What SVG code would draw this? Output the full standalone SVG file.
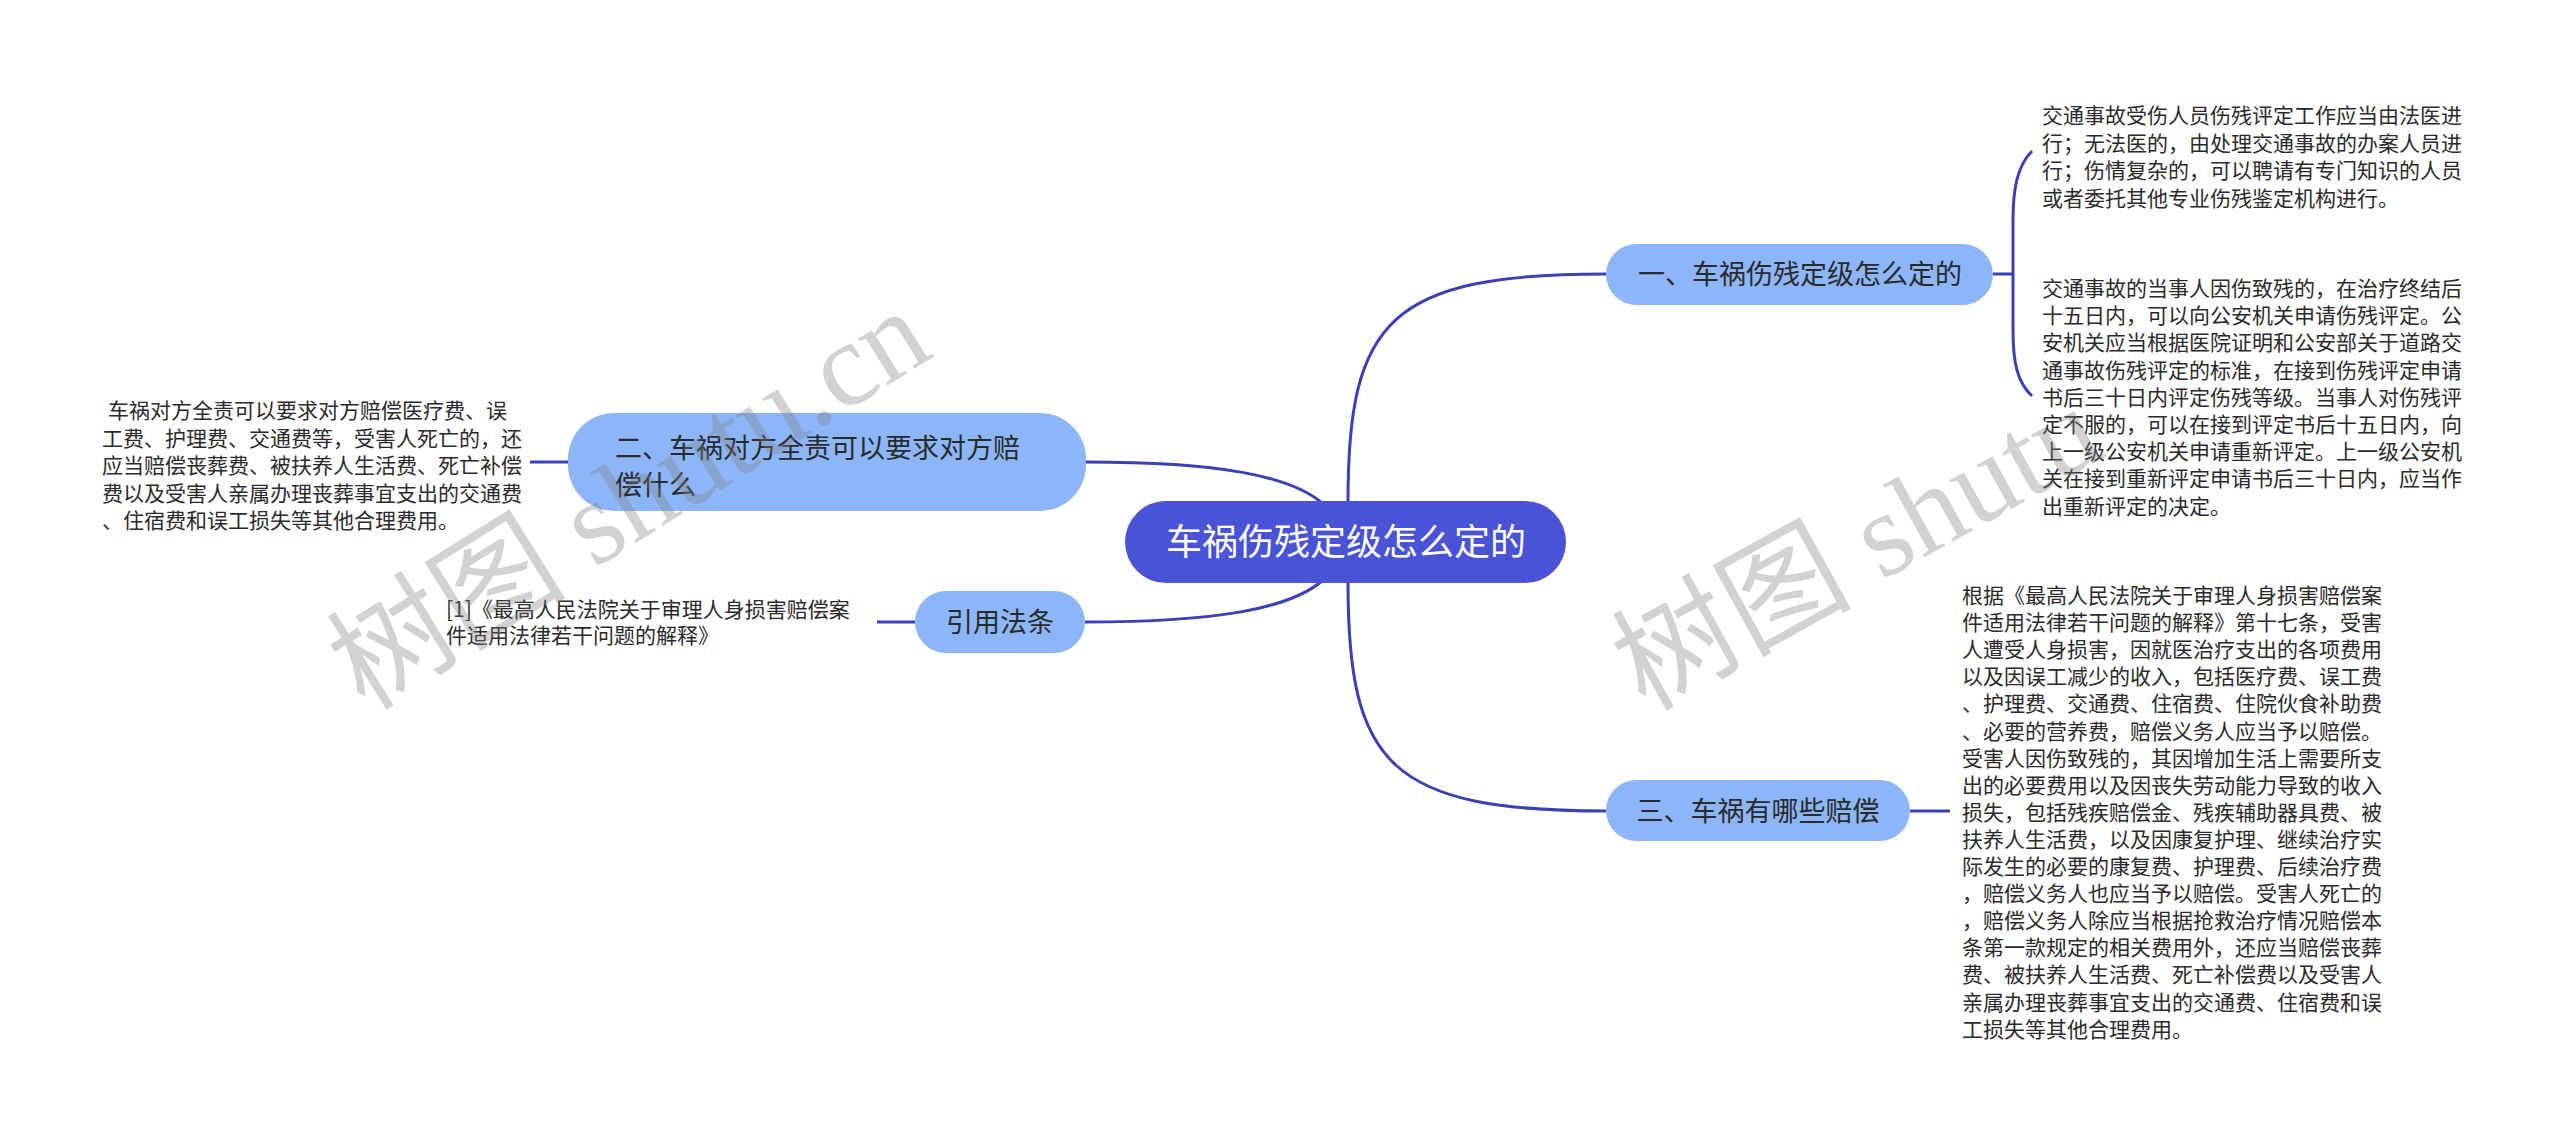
<svg xmlns="http://www.w3.org/2000/svg" width="2560" height="1139" viewBox="0 0 2560 1139">
<style>
.conn{fill:none;stroke:#3b40b4;stroke-width:3}
.root{fill:#4a53d6}
.br{fill:#8cb6f9}
.rt{font-family:"Noto Sans CJK SC","Noto Sans",sans-serif;font-size:36px;fill:#ffffff;text-anchor:middle}
.bt{font-family:"Noto Sans CJK SC","Noto Sans",sans-serif;font-size:27px;fill:#2a2a2a}
.mid{text-anchor:middle}
.pt{font-family:"Noto Sans CJK SC","Noto Sans",sans-serif;font-size:21px;fill:#2a2a2a}
.wm{font-family:"Liberation Serif","Noto Sans CJK SC",serif;font-size:120px;fill:#808080;opacity:0.35}
</style>
<rect width="2560" height="1139" fill="#ffffff"/>
<g id="connectors">
<path class="conn" d="M1348,501 C1348,320 1390,274 1606,274"/>
<path class="conn" d="M1348,583 C1348,765 1390,811 1606,811"/>
<path class="conn" d="M1322,503 C1290,476 1220,462 1086,462"/>
<path class="conn" d="M1322,581 C1290,608 1220,622 1085,622"/>
<path class="conn" d="M1993,274 H2013"/>
<path class="conn" d="M2032,151 C2017,166 2013,190 2013,220 V330 C2013,362 2017,382 2032,396"/>
<path class="conn" d="M1910,811 H1950"/>
<path class="conn" d="M568,462 H530"/>
<path class="conn" d="M915,622 H877"/>
</g>
<g id="root">
<rect class="root" x="1125" y="501" width="441" height="82" rx="41"/>
<text class="rt" x="1346" y="555">车祸伤残定级怎么定的</text>
</g>
<g id="branch1">
<rect class="br" x="1606" y="244" width="387" height="61" rx="30.5"/>
<text class="bt mid" x="1800" y="284">一、车祸伤残定级怎么定的</text>
</g>
<g id="branch3">
<rect class="br" x="1606" y="780" width="304" height="61" rx="30.5"/>
<text class="bt mid" x="1758" y="821">三、车祸有哪些赔偿</text>
</g>
<g id="branch2">
<rect class="br" x="568" y="413" width="518" height="98" rx="46"/>
<text class="bt" x="615" y="458">二、车祸对方全责可以要求对方赔</text>
<text class="bt" x="615" y="495">偿什么</text>
</g>
<g id="branch4">
<rect class="br" x="915" y="591" width="170" height="62" rx="31"/>
<text class="bt mid" x="1000" y="632">引用法条</text>
</g>
<g id="leaf1a">
<text class="pt" x="2042" y="123">交通事故受伤人员伤残评定工作应当由法医进</text>
<text class="pt" x="2042" y="150.7">行；无法医的，由处理交通事故的办案人员进</text>
<text class="pt" x="2042" y="178.4">行；伤情复杂的，可以聘请有专门知识的人员</text>
<text class="pt" x="2042" y="206.1">或者委托其他专业伤残鉴定机构进行。</text>
</g>
<g id="leaf1b">
<text class="pt" x="2042" y="296">交通事故的当事人因伤致残的，在治疗终结后</text>
<text class="pt" x="2042" y="323.2">十五日内，可以向公安机关申请伤残评定。公</text>
<text class="pt" x="2042" y="350.4">安机关应当根据医院证明和公安部关于道路交</text>
<text class="pt" x="2042" y="377.6">通事故伤残评定的标准，在接到伤残评定申请</text>
<text class="pt" x="2042" y="404.8">书后三十日内评定伤残等级。当事人对伤残评</text>
<text class="pt" x="2042" y="432">定不服的，可以在接到评定书后十五日内，向</text>
<text class="pt" x="2042" y="459.2">上一级公安机关申请重新评定。上一级公安机</text>
<text class="pt" x="2042" y="486.4">关在接到重新评定申请书后三十日内，应当作</text>
<text class="pt" x="2042" y="513.6">出重新评定的决定。</text>
</g>
<g id="leaf3">
<text class="pt" x="1962" y="603">根据《最高人民法院关于审理人身损害赔偿案</text>
<text class="pt" x="1962" y="630.1">件适用法律若干问题的解释》第十七条，受害</text>
<text class="pt" x="1962" y="657.2">人遭受人身损害，因就医治疗支出的各项费用</text>
<text class="pt" x="1962" y="684.3">以及因误工减少的收入，包括医疗费、误工费</text>
<text class="pt" x="1962" y="711.4">、护理费、交通费、住宿费、住院伙食补助费</text>
<text class="pt" x="1962" y="738.5">、必要的营养费，赔偿义务人应当予以赔偿。</text>
<text class="pt" x="1962" y="765.6">受害人因伤致残的，其因增加生活上需要所支</text>
<text class="pt" x="1962" y="792.7">出的必要费用以及因丧失劳动能力导致的收入</text>
<text class="pt" x="1962" y="819.8">损失，包括残疾赔偿金、残疾辅助器具费、被</text>
<text class="pt" x="1962" y="846.9">扶养人生活费，以及因康复护理、继续治疗实</text>
<text class="pt" x="1962" y="874">际发生的必要的康复费、护理费、后续治疗费</text>
<text class="pt" x="1962" y="901.1">，赔偿义务人也应当予以赔偿。受害人死亡的</text>
<text class="pt" x="1962" y="928.2">，赔偿义务人除应当根据抢救治疗情况赔偿本</text>
<text class="pt" x="1962" y="955.3">条第一款规定的相关费用外，还应当赔偿丧葬</text>
<text class="pt" x="1962" y="982.4">费、被扶养人生活费、死亡补偿费以及受害人</text>
<text class="pt" x="1962" y="1009.5">亲属办理丧葬事宜支出的交通费、住宿费和误</text>
<text class="pt" x="1962" y="1036.6">工损失等其他合理费用。</text>
</g>
<g id="leaf2">
<text class="pt" x="108" y="418">车祸对方全责可以要求对方赔偿医疗费、误</text>
<text class="pt" x="102" y="445.5">工费、护理费、交通费等，受害人死亡的，还</text>
<text class="pt" x="102" y="473">应当赔偿丧葬费、被扶养人生活费、死亡补偿</text>
<text class="pt" x="102" y="500.5">费以及受害人亲属办理丧葬事宜支出的交通费</text>
<text class="pt" x="102" y="528">、住宿费和误工损失等其他合理费用。</text>
</g>
<g id="leaf4">
<text class="pt" x="446" y="617">[1]《最高人民法院关于审理人身损害赔偿案</text>
<text class="pt" x="446" y="643">件适用法律若干问题的解释》</text>
</g>
<g id="watermarks">
<text class="wm" transform="translate(365,712) rotate(-32)">树图 shutu.cn</text>
<text class="wm" transform="translate(1645,712) rotate(-29)">树图 shutu</text>
</g>
</svg>
